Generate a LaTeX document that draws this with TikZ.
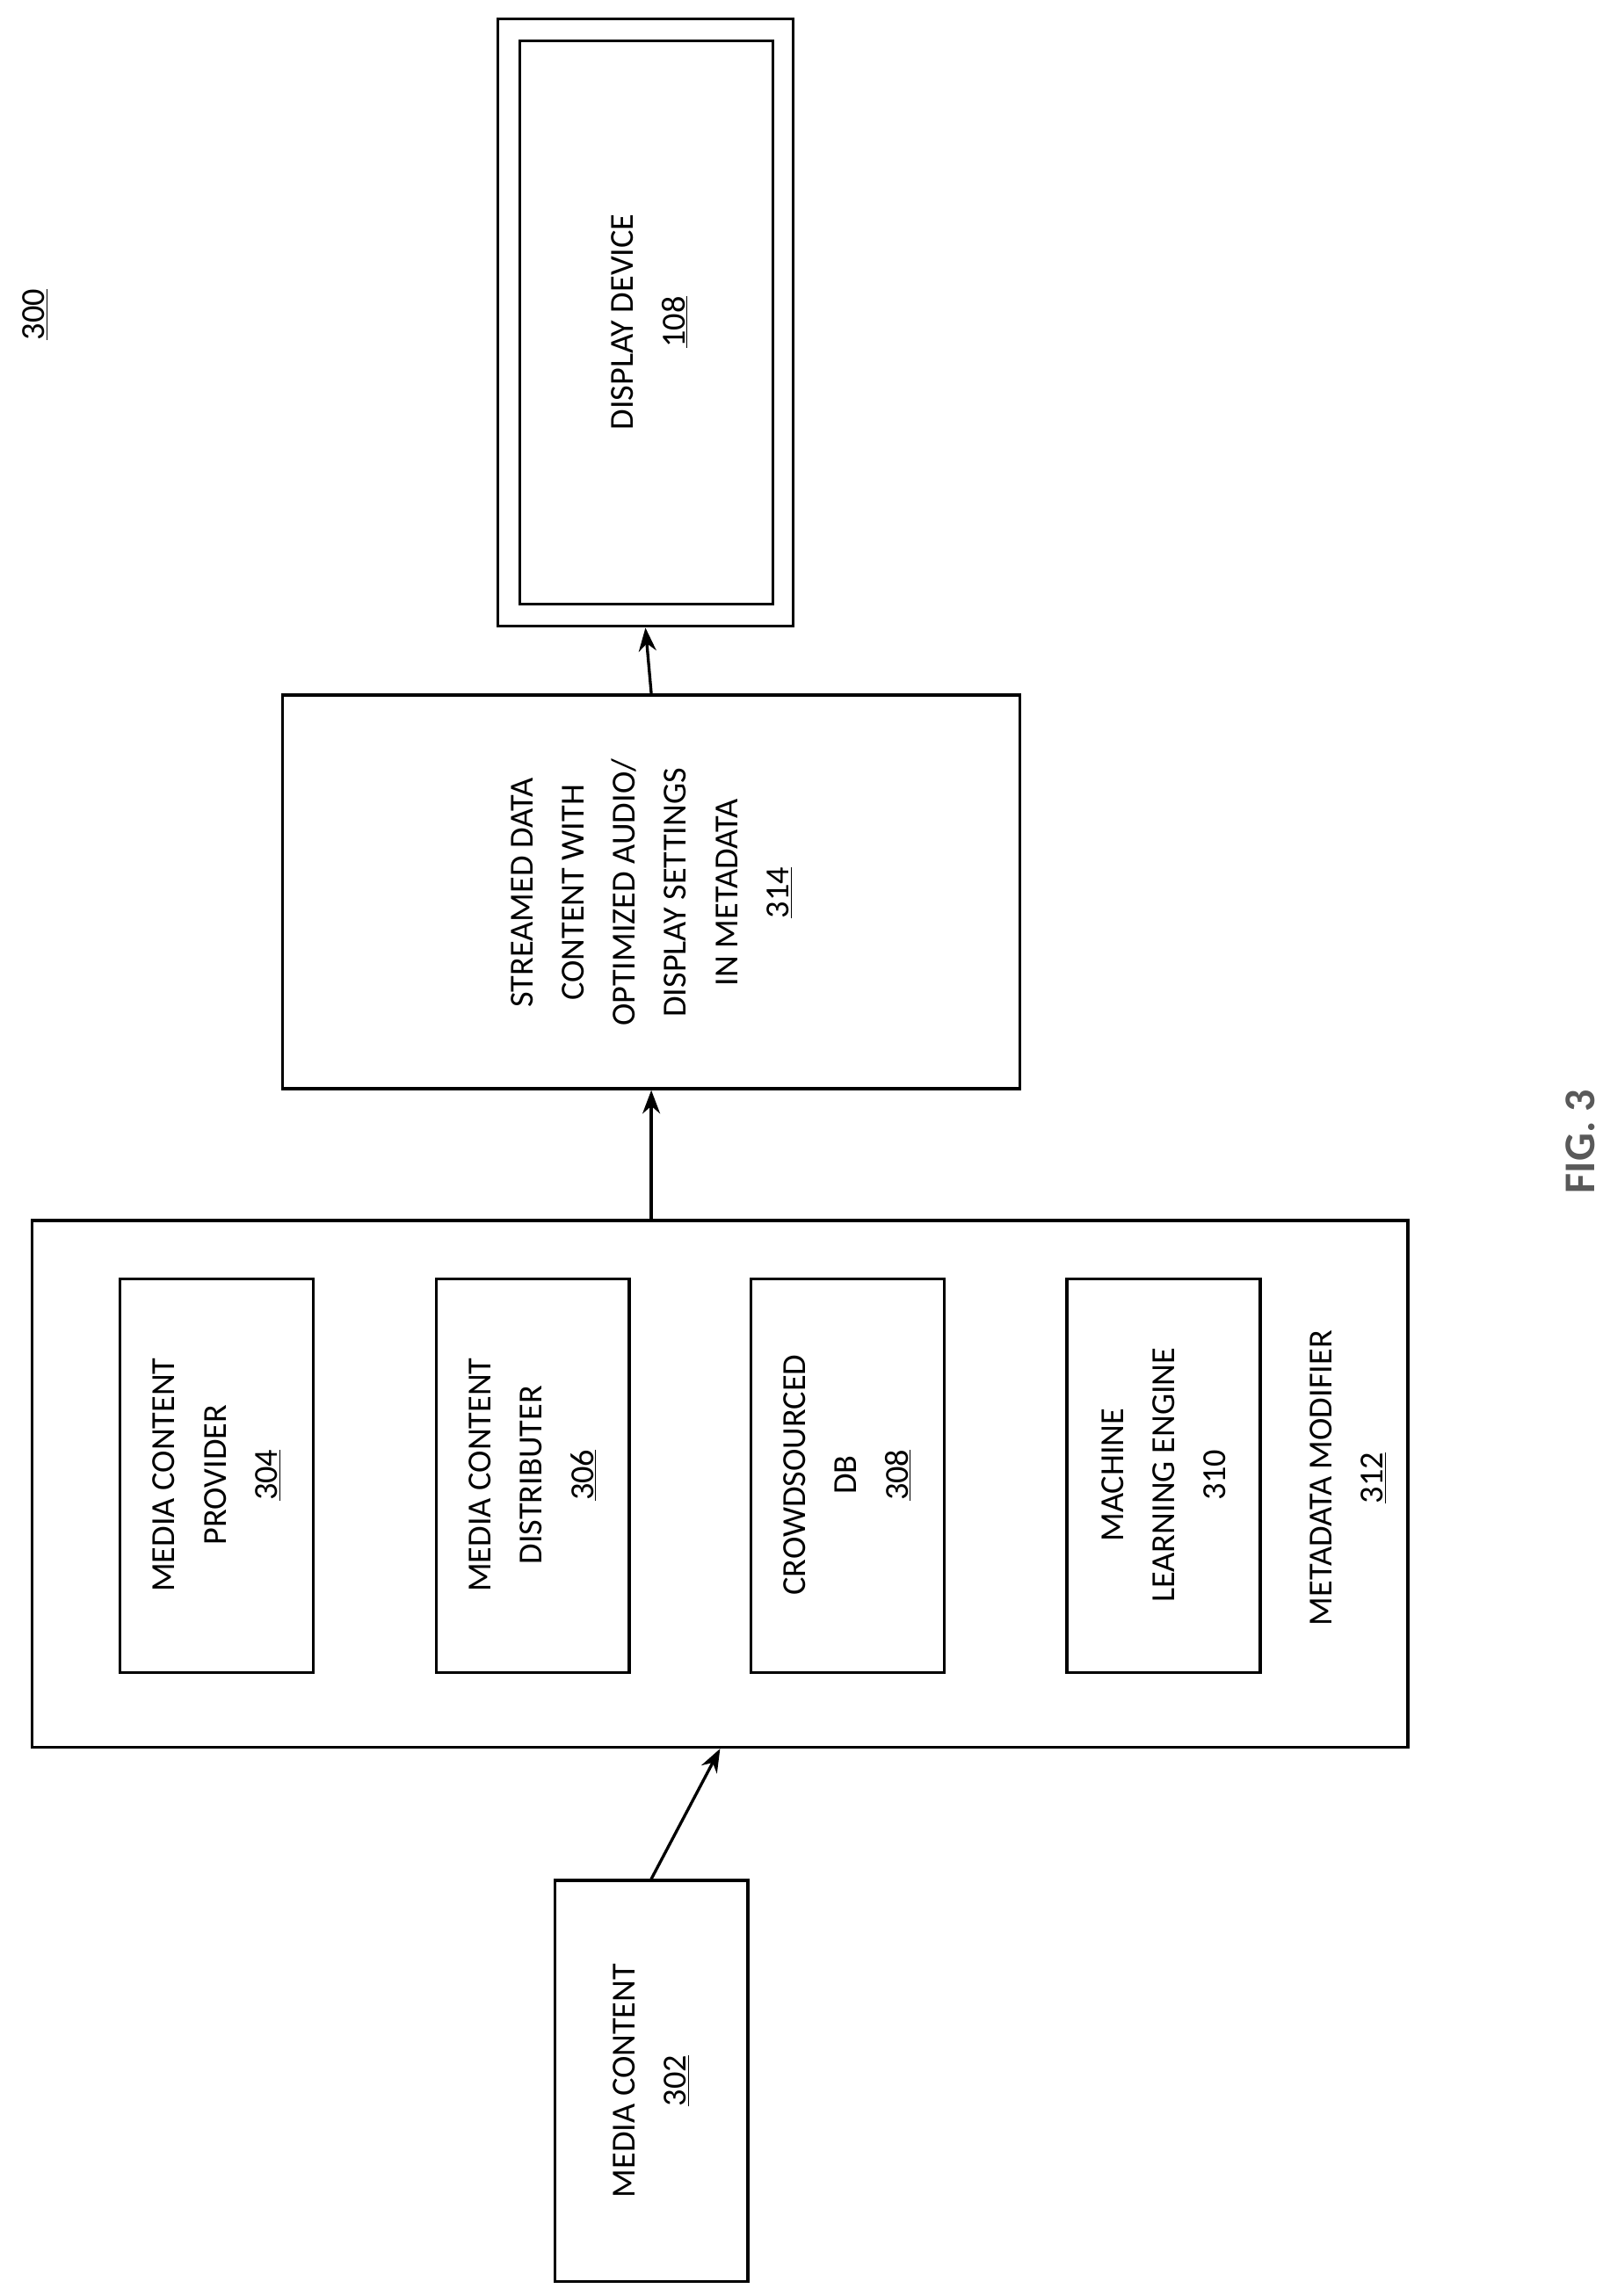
\documentclass[tikz,border=0pt]{standalone}
\usepackage{fontspec}
\setmainfont{Carlito}
\usetikzlibrary{arrows.meta}
\begin{document}
\begin{tikzpicture}[x=1pt,y=-1pt,
  box/.style={draw,line width=2pt},
  lab/.style={rotate=90,align=center,font=\fontsize{23}{35}\selectfont},
  arr/.style={-{Stealth[length=16pt,width=12pt]},line width=2pt}]
\useasboundingbox (0,0) rectangle (1100,1569);
\node[box,minimum width=202pt,minimum height=415pt] (dd) at (441,220.5) {};
\draw[line width=2pt] (355,28) rectangle (528,413);
\node[lab] at (444,220) {DISPLAY DEVICE\\\underline{108}};
\node[box,minimum width=504pt,minimum height=269pt] (sd) at (445,609.5) {};
\node[lab] at (445,610) {STREAMED DATA\\CONTENT WITH\\OPTIMIZED AUDIO/\\DISPLAY SETTINGS\\IN METADATA\\\underline{314}};
\node[box,minimum width=940pt,minimum height=360pt] (mm) at (492,1014) {};
\node[box,minimum width=132pt,minimum height=269pt] (p304) at (148,1008.5) {};
\node[lab] at (148,1008) {MEDIA CONTENT\\PROVIDER\\\underline{304}};
\node[box,minimum width=132pt,minimum height=269pt] (p306) at (364,1008.5) {};
\node[lab] at (364,1008) {MEDIA CONTENT\\DISTRIBUTER\\\underline{306}};
\node[box,minimum width=132pt,minimum height=269pt] (p308) at (579,1008.5) {};
\node[lab] at (579,1008) {CROWDSOURCED\\DB\\\underline{308}};
\node[box,minimum width=132pt,minimum height=269pt] (p310) at (795,1008.5) {};
\node[lab] at (795,1008) {MACHINE\\LEARNING ENGINE\\310};
\node[lab] at (921,1010) {METADATA MODIFIER\\\underline{312}};
\node[box,minimum width=132pt,minimum height=274pt] (mc) at (445,1422) {};
\node[lab] at (445,1422) {MEDIA CONTENT\\\underline{302}};
\node[lab] (n300) at (24,215) {\underline{300}};
\node[lab,text=gray!70!black,font=\fontsize{30}{35}\selectfont\bfseries] (fig) at (1080,780) {FIG. 3};
\draw[arr] (mc.north) -- (mm.south);
\draw[arr] (mm.north -| sd) -- (sd.south);
\draw[arr] (sd.north) -- (dd.south);
\end{tikzpicture}
\end{document}
